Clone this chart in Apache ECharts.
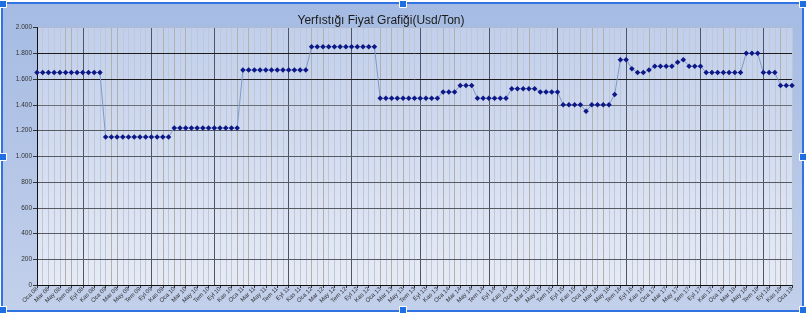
<!DOCTYPE html>
<html><head><meta charset="utf-8">
<script src="https://cdn.jsdelivr.net/npm/echarts@6/dist/echarts.min.js"></script>
<style>html,body{margin:0;padding:0;background:#fff;}#c{width:806px;height:313px;}</style>
</head><body><div id="c"></div>
<script>
// ---- data ----
const titleText = 'Yerfıstığı Fiyat Grafiği(Usd/Ton)';
const monthNames = ['Oca','Şub','Mar','Nis','May','Haz','Tem','Ağu','Eyl','Eki','Kas','Ara'];
const years = ['08','09','10','11','12','13','14','15','16','17','18','19'];
const yTicks = [0,200,400,600,800,1000,1200,1400,1600,1800,2000];

const price2008 = [1650,1650,1650,1650,1650,1650,1650,1650,1650,1650,1650,1650];
const price2009 = [1150,1150,1150,1150,1150,1150,1150,1150,1150,1150,1150,1150];
const price2010 = [1220,1220,1220,1220,1220,1220,1220,1220,1220,1220,1220,1220];
const price2011 = [1670,1670,1670,1670,1670,1670,1670,1670,1670,1670,1670,1670];
const price2012 = [1850,1850,1850,1850,1850,1850,1850,1850,1850,1850,1850,1850];
const price2013 = [1450,1450,1450,1450,1450,1450,1450,1450,1450,1450,1450,1500];
const price2014 = [1500,1500,1550,1550,1550,1450,1450,1450,1450,1450,1450,1525];
const price2015 = [1525,1525,1525,1525,1500,1500,1500,1500,1400,1400,1400,1400];
const price2016 = [1350,1400,1400,1400,1400,1480,1750,1750,1680,1650,1650,1670];
const price2017 = [1700,1700,1700,1700,1730,1750,1700,1700,1700,1650,1650,1650];
const price2018 = [1650,1650,1650,1650,1800,1800,1800,1650,1650,1650,1550,1550];
const price2019 = [1550];

// ---- build ----
const categories = [];
years.forEach(function(y, yi){
  monthNames.forEach(function(m, mi){
    if (yi < years.length - 1 || mi === 0) categories.push(m + ' ' + y);
  });
});
const prices = [].concat(price2008, price2009, price2010, price2011, price2012, price2013,
  price2014, price2015, price2016, price2017, price2018, price2019);

// vertical grid line shading (style only)
const darkIdx = [8,20,31,44,55,67,79,91,103,116,127];
const tanIdx = [5,6,13,14,22,24,26,35,37,41,48,50,60,62,64,71,73,84,86,95,97,99,107,110,112,120,122,130];
const vColors = categories.map(function(_, i){
  if (i === 0) return '#111';
  if (darkIdx.indexOf(i) >= 0) return '#50555e';
  if (tanIdx.indexOf(i) >= 0) return '#b2b0aa';
  return '#bfc6d4';
});
const hColors = ['#111','#555a62','#555a62','#555a62','#555a62','#555a62','#555a62','#6a6f78','#1c1c1c','#1c1c1c','#aeb9d2'];

function fmt(v){
  if (v >= 1000) { var r = String(v % 1000); while (r.length < 3) r = '0' + r; return Math.floor(v/1000) + '.' + r; }
  return String(v);
}

const chart = echarts.init(document.getElementById('c'), null, {renderer:'canvas'});
const handle = function(x, y){
  return {type:'rect', z:100, silent:true, shape:{x:x-3.5, y:y-3.5, width:7, height:7},
    style:{fill:'#1f6fe3', stroke:'#ffffff', lineWidth:1}};
};
chart.setOption({
  animation:false,
  backgroundColor:'#ffffff',
  textStyle:{fontFamily:'Liberation Sans, Arial, sans-serif'},
  graphic:[
    {type:'rect', z:-100, silent:true, shape:{x:2, y:3, width:801, height:308},
      style:{fill:new echarts.graphic.LinearGradient(0,0,0,1,[{offset:0,color:'#a5bbe3'},{offset:1,color:'#c3d0eb'}]),
        stroke:'#2f74e2', lineWidth:2}},
    handle(3,4), handle(403,4), handle(803,4), handle(3,157), handle(803,157),
    handle(3,310), handle(403,310), handle(803,310)
  ],
  title:{text:titleText, left:376, top:10, textAlign:'center',
    textStyle:{fontSize:12, fontWeight:'normal', color:'#1a1a1a', fontFamily:'Liberation Sans, Arial, sans-serif'}},
  grid:{left:37, right:14, top:27.5, bottom:28, show:true, borderWidth:0,
    backgroundColor:new echarts.graphic.LinearGradient(0,0,0,1,[{offset:0,color:'#c1cfec'},{offset:1,color:'#e6ebf6'}])},
  xAxis:{type:'category', data:categories, boundaryGap:false, z:0,
    axisLine:{show:true, lineStyle:{color:'#111', width:1, type:'solid'}},
    axisTick:{show:true, interval:1, length:3, lineStyle:{color:'#333'}},
    axisLabel:{interval:1, rotate:45, fontSize:6, color:'#333', margin:3},
    splitLine:{show:true, interval:0, lineStyle:{color:vColors, width:1, type:'solid'}}},
  yAxis:{type:'value', min:0, max:2000, interval:200, z:1,
    axisLine:{show:true, lineStyle:{color:'#111', width:1, type:'solid'}},
    axisTick:{show:true, length:4, lineStyle:{color:'#333'}},
    axisLabel:{fontSize:6.5, color:'#333', margin:5, formatter:fmt},
    splitLine:{show:true, lineStyle:{color:hColors, width:1, type:'solid'}}},
  series:[{type:'line', data:prices, showAllSymbol:true, symbol:'diamond', symbolSize:5.5,
    lineStyle:{color:'#7c9bcb', width:1}, itemStyle:{color:'#0d1786'}, z:5}]
});
</script></body></html>
